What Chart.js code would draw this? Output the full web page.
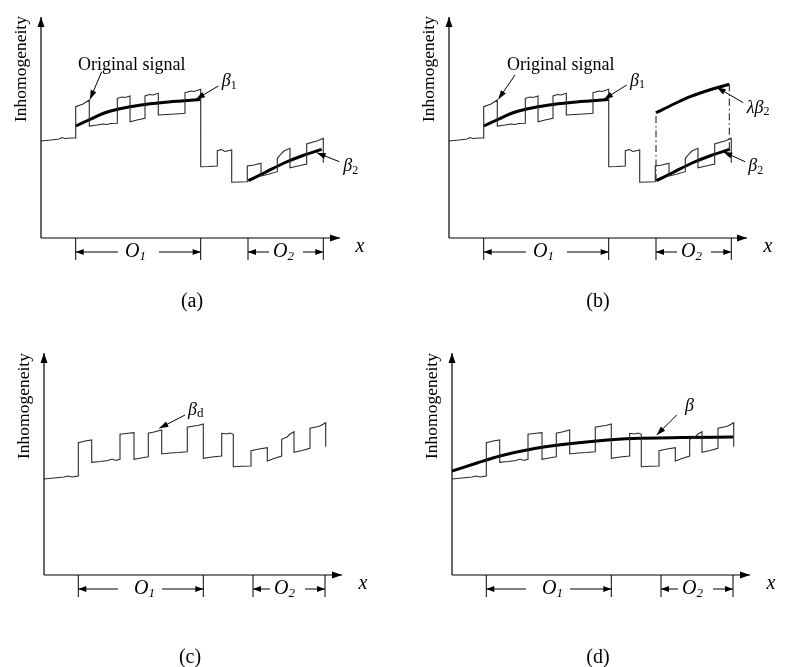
<!DOCTYPE html>
<html>
<head>
<meta charset="utf-8">
<script src="https://cdn.jsdelivr.net/npm/chart.js@4.4.0/dist/chart.umd.min.js"></script>
<style>
  body { margin: 0; background: #fff; width: 787px; height: 667px; position: relative; overflow: hidden; }
  canvas { position: absolute; }
</style>
</head>
<body>
<canvas id="pa" width="379" height="330" style="left:0;top:0"></canvas>
<canvas id="pb" width="379" height="330" style="left:408px;top:0"></canvas>
<canvas id="pc" width="379" height="330" style="left:0;top:337px"></canvas>
<canvas id="pd" width="379" height="330" style="left:408px;top:337px"></canvas>
<script>
// values, [x, y] with the origin at the corner of the axes
const signalAB = [[0,97],[10,98],[18,99],[21,100.5],[24,99.5],[30,100],[34.7,100],
  [34.7,131.3],[42,134],[48.3,138],
  [48.3,112],[56,113],[62,114],[66,113.5],[70,114.5],[76.3,114.7],
  [76.3,139.7],[81,141],[84,140.5],[89,142],
  [89,116.3],[96,118],[104,119.7],
  [104,142],[108,143.5],[112,143],[117.3,144.7],
  [117.3,123],[126,123.5],[134,124],[144,124.7],
  [144,145.3],[150,147],[153,146.5],[159.7,148.7],
  [159.7,71.3],[168,71.5],[176.3,72],
  [176.3,87.3],[180,88.5],[184,86.5],[190.7,88],
  [190.7,55.7],[198,56],[206.3,56.3],
  [206.3,72],[213,73],[220,74.7],
  [220,62],[228,64],[236.3,66.3],
  [236.3,79.7],[240,84],[243,87],[249,89.7],
  [249,70.3],[257,72],[265.7,74],
  [265.7,94],[272,96],[276,97],[282.3,99.7],
  [282.3,75.3]];

const signalCD = [[0,96],[10,97],[20,98],[24,99],[28,98],[34.3,99],
  [34.3,132.3],[41,134],[47.7,135],
  [47.7,112.7],[56,113.5],[64,114.5],[68,116],[72,114.5],[76,115.7],
  [76,140.7],[82,141.5],[90,142.3],
  [90,115.7],[97,117],[104.3,118.3],
  [104.3,141.7],[110,143],[117.7,145],
  [117.7,121],[126,122],[134,122.5],[143.3,123.3],
  [143.3,147.7],[150,149],[154,149.5],[159.3,151],
  [159.3,116.7],[168,118],[177.7,119],
  [177.7,141.7],[183,141],[186,142],[189.3,140.7],
  [189.3,108.3],[198,108.7],[207,109],
  [207,124.3],[215,126],[223.3,127.3],
  [223.3,114],[230,116.5],[237.7,119],
  [237.7,135.7],[243,138],[246,141],[250,143.3],
  [250,122.7],[258,124.5],[266,126.7],
  [266,146.7],[272,148],[276,149],[281.7,152.3],
  [281.7,128.3]];

const beta1 = [[34.7,112],[50,119],[62,124.5],[80,129.5],[100,133],[122,135.5],[140,137],[159.7,138.5]];
const beta2 = [[207.3,57.3],[225,66],[242,74.5],[262,82.5],[280.7,88.7]];
const lambdaBeta2 = [[207,125.3],[225,134],[241,141.3],[262,148.5],[280.3,153.7]];
const betaFit = [[0,104],[25,112],[48,119],[80,126],[115,131],[150,134.5],[181,136.5],[230,137.5],[281,138]];
const guideLeft = [[207,57],[207,125.3]];
const guideRight = [[280.3,88.7],[280.3,153.7]];

const captions = ['(a)', '(b)', '(c)', '(d)'];

const XMAX = 310, YMAX = 225, W = 379, H = 330;
const FONT = '"Liberation Serif", "DejaVu Serif", serif';
const ital = s => 'italic ' + s + 'px ' + FONT;
const rom = s => s + 'px ' + FONT;

function head(ctx, x1, y1, x2, y2, len, half) {
  const a = Math.atan2(y2 - y1, x2 - x1), c = Math.cos(a), s = Math.sin(a);
  ctx.beginPath();
  ctx.moveTo(x2, y2);
  ctx.lineTo(x2 - len * c + half * s, y2 - len * s - half * c);
  ctx.lineTo(x2 - len * c - half * s, y2 - len * s + half * c);
  ctx.closePath();
  ctx.fill();
}
function arrow(ctx, x1, y1, x2, y2, lw, len, half) {
  ctx.lineWidth = lw;
  ctx.beginPath(); ctx.moveTo(x1, y1); ctx.lineTo(x2, y2); ctx.stroke();
  head(ctx, x1, y1, x2, y2, len, half);
}
function rich(ctx, x, y, parts, align) {
  let w = 0;
  parts.forEach(p => { ctx.font = p.f; w += ctx.measureText(p.t).width; });
  let cx = align === 'center' ? x - w / 2 : x;
  ctx.textAlign = 'left'; ctx.textBaseline = 'middle';
  parts.forEach(p => { ctx.font = p.f; ctx.fillText(p.t, cx, y + (p.dy || 0)); cx += ctx.measureText(p.t).width; });
}

const sym = {
  orig: [{ t: 'Original signal', f: rom(18) }],
  b1: [{ t: 'β', f: ital(18) }, { t: '1', f: rom(12), dy: 4 }],
  b2: [{ t: 'β', f: ital(18) }, { t: '2', f: rom(12), dy: 4 }],
  lb2: [{ t: 'λβ', f: ital(18) }, { t: '2', f: rom(12), dy: 4 }],
  bd: [{ t: 'β', f: ital(18) }, { t: 'd', f: rom(13), dy: 4 }],
  b: [{ t: 'β', f: ital(18) }],
  O1: [{ t: 'O', f: ital(20) }, { t: '1', f: ital(13), dy: 5 }],
  O2: [{ t: 'O', f: ital(20) }, { t: '2', f: ital(13), dy: 5 }]
};

const schematic = {
  id: 'schematic',
  afterDatasetsDraw(chart, args, o) {
    const ctx = chart.ctx;
    const X = v => chart.scales.x.getPixelForValue(v);
    const Y = v => chart.scales.y.getPixelForValue(v);
    ctx.save();
    ctx.strokeStyle = '#000'; ctx.fillStyle = '#000';
    // axes with arrow heads
    arrow(ctx, X(0), Y(0), X(0), Y(o.yEnd), 1.2, 10, 3.5);
    arrow(ctx, X(0), Y(0), X(o.xEnd), Y(0), 1.2, 10, 3.5);
    rich(ctx, X(319), Y(-9), [{ t: 'x', f: ital(20) }], 'center');
    ctx.save();
    ctx.translate(X(-20), Y(169));
    ctx.rotate(-Math.PI / 2);
    ctx.font = rom(17.5); ctx.textAlign = 'center'; ctx.textBaseline = 'middle';
    ctx.fillText('Inhomogeneity', 0, 0);
    ctx.restore();
    // O1 / O2 spans below the x axis
    o.spans.forEach(s => {
      ctx.lineWidth = 1;
      ctx.beginPath();
      ctx.moveTo(X(s.from), Y(0)); ctx.lineTo(X(s.from), Y(-22));
      ctx.moveTo(X(s.to), Y(0)); ctx.lineTo(X(s.to), Y(-22));
      ctx.stroke();
      arrow(ctx, X(s.left), Y(-14), X(s.from), Y(-14), 1, 8, 3);
      arrow(ctx, X(s.right), Y(-14), X(s.to), Y(-14), 1, 8, 3);
      rich(ctx, X(s.textX), Y(-14), sym[s.name], 'left');
    });
    // labels with pointer arrows
    o.notes.forEach(n => {
      rich(ctx, X(n.at[0]), Y(n.at[1]), sym[n.name], 'left');
      arrow(ctx, X(n.from[0]), Y(n.from[1]), X(n.to[0]), Y(n.to[1]), 1, 9, 3);
    });
    rich(ctx, X(o.capX), Y(o.capY), [{ t: o.caption, f: rom(20) }], 'center');
    ctx.restore();
  }
};

const spansAB = [
  { name: 'O1', from: 34.7, to: 159.7, left: 77, right: 118, textX: 84 },
  { name: 'O2', from: 207, to: 282.3, left: 228, right: 262, textX: 232 }
];
const spansCD = [
  { name: 'O1', from: 34.3, to: 159.3, left: 74, right: 118, textX: 90 },
  { name: 'O2', from: 209, to: 281, left: 226, right: 261, textX: 230 }
];

const thin = data => ({ data, color: '#2a2a2a', width: 1.1 });
const thick = data => ({ data, color: '#000', width: 3, smooth: true });
const dashed = data => ({ data, color: '#111', width: 1, dash: [7, 3, 1.5, 3] });

const panels = [
  { id: 'pa', ox: 41, series: [thin(signalAB), thick(beta1), thick(beta2)],
    draw: { caption: captions[0], capX: 151, capY: -64, xEnd: 299, yEnd: 221, spans: spansAB,
      notes: [
        { name: 'orig', at: [37, 173], from: [60.7, 166.3], to: [49, 138.7] },
        { name: 'b1', at: [180.7, 156.3], from: [177.3, 152], to: [155, 138.7] },
        { name: 'b2', at: [302.3, 71.3], from: [298.3, 76.3], to: [275.7, 85.3] }
      ] } },
  { id: 'pb', ox: 41, series: [thin(signalAB), thick(beta1), thick(beta2), thick(lambdaBeta2), dashed(guideLeft), dashed(guideRight)],
    draw: { caption: captions[1], capX: 149, capY: -64, xEnd: 298, yEnd: 221, spans: spansAB,
      notes: [
        { name: 'orig', at: [58, 173], from: [66, 163], to: [49.3, 138.7] },
        { name: 'b1', at: [181, 157], from: [177.7, 153], to: [155, 138.7] },
        { name: 'lb2', at: [297.7, 129.7], from: [294.3, 135.3], to: [267.7, 150.7] },
        { name: 'b2', at: [299.3, 71.3], from: [296, 76.3], to: [274.3, 86.3] }
      ] } },
  { id: 'pc', ox: 44, series: [thin(signalCD)],
    draw: { caption: captions[2], capX: 146, capY: -83, xEnd: 298, yEnd: 222, spans: spansCD,
      notes: [
        { name: 'bd', at: [144, 165], from: [141, 160], to: [115.3, 146.7] }
      ] } },
  { id: 'pd', ox: 44, series: [thin(signalCD), thick(betaFit)],
    draw: { caption: captions[3], capX: 146, capY: -83, xEnd: 298, yEnd: 222, spans: spansCD,
      notes: [
        { name: 'b', at: [233, 169], from: [224.7, 160], to: [204.7, 140] }
      ] } }
];

panels.forEach(p => {
  const oy = 238;
  new Chart(document.getElementById(p.id), {
    type: 'scatter',
    data: {
      datasets: p.series.map(s => ({
        data: s.data.map(([x, y]) => ({ x, y })),
        showLine: true,
        pointRadius: 0,
        borderColor: s.color,
        borderWidth: s.width,
        borderDash: s.dash || [],
        tension: s.smooth ? 0.4 : 0,
        cubicInterpolationMode: s.smooth ? 'monotone' : 'default',
        fill: false
      }))
    },
    options: {
      responsive: false,
      animation: false,
      devicePixelRatio: 1,
      layout: { padding: { left: p.ox, right: W - p.ox - XMAX, top: oy - YMAX, bottom: H - oy } },
      scales: {
        x: { type: 'linear', min: 0, max: XMAX, display: false },
        y: { type: 'linear', min: 0, max: YMAX, display: false }
      },
      plugins: { legend: { display: false }, tooltip: { enabled: false }, schematic: p.draw }
    },
    plugins: [schematic]
  });
});
</script>
</body>
</html>
